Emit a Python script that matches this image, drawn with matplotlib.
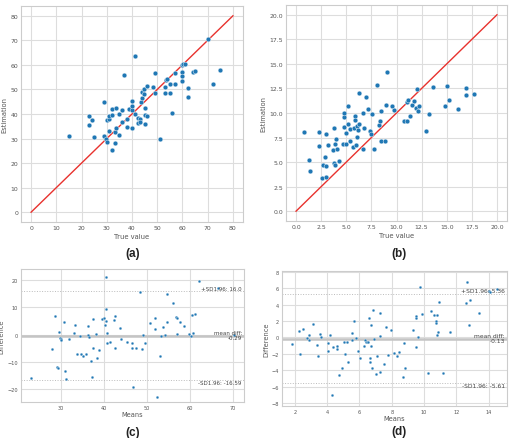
import numpy as np
import matplotlib
matplotlib.use('Agg')
import matplotlib.pyplot as plt

# (a) true value vs estimation
a_true = [15.0, 23.1, 24.0, 23.1, 25.1, 28.8, 28.8, 29.5, 30.0, 30.1, 31.0, 31.0, 31.0, 32.1, 32.1,
          32.1, 33.2, 33.2, 33.8, 33.8, 35.0, 35.0, 35.9, 35.9, 37.0, 37.9, 38.1, 38.9, 39.9, 39.9,
          40.1, 40.1, 41.0, 41.0, 42.2, 42.2, 43.0, 43.0, 43.4, 43.9, 43.9, 44.8, 44.8, 45.0, 45.0,
          45.0, 46.0, 46.0, 48.2, 49.0, 49.0, 51.1, 53.2, 53.2, 53.5, 54.0, 55.1, 55.1, 56.0, 57.0,
          57.0, 59.8, 60.0, 60.0, 60.0, 60.4, 61.0, 62.1, 62.1, 64.2, 65.1, 70.0, 72.2, 75.0]
a_est = [31.0, 39.1, 37.6, 35.6, 30.6, 44.8, 31.0, 29.9, 28.7, 37.4, 38.0, 39.3, 32.9, 42.1, 39.4,
         25.3, 32.8, 28.3, 42.6, 34.5, 40.1, 31.5, 41.8, 36.7, 56.0, 38.0, 34.8, 42.2, 34.1, 41.6,
         43.2, 45.2, 63.6, 40.2, 38.3, 36.3, 38.0, 36.8, 44.7, 46.4, 49.0, 50.1, 48.1, 42.6, 39.7,
         35.9, 51.4, 39.1, 51.2, 56.6, 48.7, 29.9, 48.5, 50.9, 53.9, 54.4, 52.4, 48.7, 40.5, 52.1,
         56.6, 60.1, 57.0, 55.5, 53.6, 60.5, 60.5, 50.4, 47.1, 57.0, 57.5, 70.4, 52.4, 57.9]

# (b) true value vs estimation
b_true = [0.8, 1.3, 1.4, 2.3, 2.3, 2.6, 2.7, 3.0, 2.9, 3.0, 3.0, 3.2, 3.7, 3.8, 3.8, 3.9, 3.9, 4.0,
          4.1, 4.3, 4.8, 4.8, 4.8, 4.7, 5.0, 5.0, 5.2, 5.2, 5.4, 5.4, 5.7, 5.8, 5.9, 5.9, 6.0, 6.1,
          6.1, 6.2, 6.3, 6.3, 6.7, 6.7, 6.8, 7.0, 7.2, 7.4, 7.5, 7.6, 7.8, 8.1, 8.3, 8.4, 8.5, 8.5,
          8.9, 9.0, 9.1, 9.6, 9.8, 10.7, 11.0, 11.0, 11.1, 11.3, 11.5, 11.7, 11.9, 12.0, 12.1, 12.2,
          12.9, 13.2, 13.6, 14.8, 15.0, 15.2, 16.1, 16.9, 16.9, 17.7]
b_est = [8.1, 5.2, 4.1, 8.1, 6.6, 3.4, 4.7, 7.9, 5.5, 3.5, 4.6, 6.7, 6.2, 8.5, 4.9, 6.8, 4.7, 7.4,
         6.3, 5.1, 8.6, 9.6, 10.0, 6.8, 6.8, 8.0, 10.7, 8.9, 8.4, 7.1, 6.5, 8.5, 9.7, 9.3, 6.7, 8.7,
         7.6, 8.3, 8.9, 12.0, 10.0, 6.3, 8.5, 11.6, 10.4, 8.2, 7.9, 9.9, 6.3, 12.9, 8.8, 9.2, 10.2, 7.1,
         7.1, 10.8, 14.2, 10.7, 10.3, 9.2, 9.2, 11.1, 11.3, 9.7, 10.8, 11.2, 10.5, 12.4, 10.2, 10.7,
         8.2, 9.9, 12.6, 10.7, 12.8, 11.3, 10.4, 12.5, 11.8, 11.9]

# (c) Bland-Altman
c_means = [23.0, 27.8, 28.6, 29.1, 29.3, 29.5, 29.7, 29.9, 30.0, 30.6, 30.8, 31.2, 31.9, 32.9, 33.3,
           33.6, 34.3, 34.6, 35.1, 35.7, 36.3, 36.3, 36.5, 37.0, 37.1, 37.3, 37.5, 38.1, 38.4, 38.8,
           39.4, 39.9, 40.1, 40.4, 40.4, 40.5, 40.6, 40.6, 41.4, 42.3, 42.6, 42.6, 43.7, 43.9, 45.3,
           46.4, 46.5, 46.7, 47.3, 48.3, 48.7, 49.0, 49.5, 50.7, 51.9, 51.9, 52.3, 52.9, 53.3, 53.6,
           54.2, 54.6, 54.7, 56.1, 56.8, 56.9, 57.0, 57.7, 58.5, 59.7, 60.2, 60.4, 60.8, 61.2, 62.0,
           66.5, 70.2]
c_diffs = [-16.0, -5.4, 6.9, -12.0, -12.4, 1.1, -1.1, -1.6, -2.1, 4.8, -13.4, -16.1, -1.7, 0.5, 3.4,
           -7.0, -0.5, -7.1, -7.7, -7.2, 3.2, -0.1, -0.7, -9.8, -15.6, 5.6, -5.0, 0.1, -8.7, -5.8,
           5.6, 6.0, 3.7, 9.3, 5.0, 21.1, 0.7, -3.2, -2.8, 5.4, 6.9, -5.0, 2.6, -1.7, -2.6,
           -2.9, -5.0, -19.3, -4.7, 15.6, -5.4, 0.0, -3.1, 4.4, 6.3, 2.2, -22.8, -7.7, -0.6, 2.7,
           -0.2, 4.8, 14.8, 11.5, 6.4, 0.4, 6.0, 4.5, 3.1, 0.4, -0.5, 7.2, 0.5, 7.6, 19.8,
           17.2, -0.2]
c_mean_diff = -0.29
c_upper = 16.0
c_lower = -16.59
c_xticks = [30, 40, 50, 60, 70]
c_yticks = [-20, -10, 0, 10, 20]

# (d) Bland-Altman
d_means = [1.84, 2.23, 2.33, 2.49, 2.74, 2.86, 2.89, 3.13, 3.38, 3.44, 3.56, 3.65, 4.04, 4.06, 4.16,
           4.35, 4.33, 4.61, 4.63, 4.72, 4.90, 5.07, 5.11, 5.23, 5.29, 5.52, 5.56, 5.68, 5.79, 5.93,
           6.03, 6.28, 6.36, 6.42, 6.47, 6.53, 6.57, 6.63, 6.65, 6.69, 6.71, 6.76, 6.82, 6.90, 7.02,
           7.07, 7.27, 7.27, 7.27, 7.62, 7.54, 7.76, 7.95, 8.15, 8.32, 8.46, 8.71, 8.77, 8.85, 9.31,
           9.49, 9.51, 9.51, 9.60, 9.76, 9.86, 10.23, 10.44, 10.60, 10.71, 10.73, 10.79, 10.81, 10.87,
           10.95, 11.20, 11.61, 12.62, 12.68, 12.83, 12.81, 13.40, 14.00, 14.08, 14.50]
d_diffs = [-0.79, 0.79, -2.07, 1.08, -0.12, 0.29, -0.33, 1.58, -0.91, -2.28, 0.46, 0.04, -0.70, -1.66, 0.29,
           -1.12, -7.0, -1.04, -1.45, -4.64, -3.77, -0.50, -2.03, -0.50, -2.98, -0.29, 0.58, 2.03, -0.12, -1.66,
           -2.45, -0.99, -0.33, -0.50, -0.58, -0.54, 2.40, -2.53, -2.94, 1.49, -1.04, -3.73, 3.32, -0.25, -4.48,
           -2.32, 3.03, -4.23, 0.21, 1.28, -3.27, -2.16, 0.87, -1.95, -2.32, -1.78, -4.85, -0.62, -3.73, 0.87,
           2.40, 2.65, -1.16, 0.0, 6.18, 2.86, -4.35, 3.23, 2.78, 1.78, 1.99, 2.69, 0.33, 0.66,
           4.31, -4.31, 0.62, 4.15, 6.76, 4.56, 1.49, 3.03, 5.68, 5.51, 5.97]
d_mean_diff = -0.13
d_upper = 5.36
d_lower = -5.61
d_xticks = [2, 4, 6, 8, 10, 12, 14]
d_yticks = [-8, -6, -4, -2, 0, 2, 4, 6, 8]

BLUE = '#1f77b4'
GRID = '#dddddd'
TXT = '#555555'


def style_axes(ax, fs):
    ax.set_facecolor('white')
    ax.grid(True, color=GRID, linewidth=0.8)
    ax.set_axisbelow(True)
    for s in ax.spines.values():
        s.set_color('#cccccc')
        s.set_linewidth(0.8)
    ax.tick_params(length=0, labelsize=fs, colors=TXT, pad=2)


def scatter_panel(ax, x, y, lim, ticks, fmt):
    style_axes(ax, 4.4)
    ax.plot([0, lim], [0, lim], color='#e8322e', linewidth=1.0, zorder=2)
    ax.scatter(x, y, s=12, color=BLUE, edgecolors='white', linewidths=0.3, zorder=3)
    ax.set_xticks(ticks)
    ax.set_yticks(ticks)
    ax.set_xticklabels([fmt.format(t) for t in ticks])
    ax.set_yticklabels([fmt.format(t) for t in ticks])
    ax.set_xlabel('True value', fontsize=4.9, color=TXT, labelpad=2)
    ax.set_ylabel('Estimation', fontsize=4.9, color=TXT, labelpad=2)


def ba_panel(ax, m, d, mean_diff, upper, lower, xticks, yticks, afs):
    style_axes(ax, 3.6)
    ax.scatter(m, d, s=4, color=BLUE, edgecolors='white', linewidths=0.2, zorder=3)
    ax.axhline(mean_diff, color='#c4c4c4', linewidth=1.8, zorder=1)
    ax.axhline(upper, color='#bbbbbb', linewidth=0.7, linestyle=':', zorder=1)
    ax.axhline(lower, color='#bbbbbb', linewidth=0.7, linestyle=':', zorder=1)
    trans = ax.get_yaxis_transform()
    ax.annotate('mean diff:\n{}'.format(mean_diff), xy=(0.99, mean_diff), xycoords=trans,
                ha='right', va='center', fontsize=afs, color='#444444', linespacing=1.0)
    ax.annotate('+SD1.96: {}'.format(upper), xy=(0.99, upper), xycoords=trans,
                ha='right', va='bottom', fontsize=afs, color='#444444')
    ax.annotate('-SD1.96: {}'.format(lower), xy=(0.99, lower), xycoords=trans,
                ha='right', va='top', fontsize=afs, color='#444444')
    half = 1.5 * (upper - mean_diff)
    ax.set_ylim(mean_diff - half, mean_diff + half)
    ax.set_xticks(xticks)
    ax.set_yticks(yticks)
    ax.set_xlabel('Means', fontsize=4.8, color=TXT, labelpad=1)
    ax.set_ylabel('Difference', fontsize=4.8, color=TXT, labelpad=2)


W, H = 513.0, 439.0
fig = plt.figure(figsize=(W / 100, H / 100), dpi=100)


def box(l, t, r, b):
    return [l / W, 1 - b / H, (r - l) / W, (b - t) / H]


ax_a = fig.add_axes(box(21, 7, 243, 223))
ax_b = fig.add_axes(box(286, 6, 507, 222))
ax_c = fig.add_axes(box(21, 270, 244, 403))
ax_d = fig.add_axes(box(282, 272, 507, 407))

scatter_panel(ax_a, a_true, a_est, 80, list(range(0, 81, 10)), '{:d}')
scatter_panel(ax_b, b_true, b_est, 20, [0, 2.5, 5, 7.5, 10, 12.5, 15, 17.5, 20], '{:.1f}')
ba_panel(ax_c, c_means, c_diffs, c_mean_diff, c_upper, c_lower, c_xticks, c_yticks, 4.0)
ba_panel(ax_d, d_means, d_diffs, d_mean_diff, d_upper, d_lower, d_xticks, d_yticks, 4.3)

for lab, x, y in [('(a)', 133, 254), ('(b)', 399, 254), ('(c)', 133, 433), ('(d)', 399, 432)]:
    fig.text(x / W, 1 - y / H, lab, ha='center', va='center', fontsize=8.5,
             fontweight='bold', family='Liberation Sans', color='#222222')

fig.savefig('out.png', dpi=100, facecolor='white')
